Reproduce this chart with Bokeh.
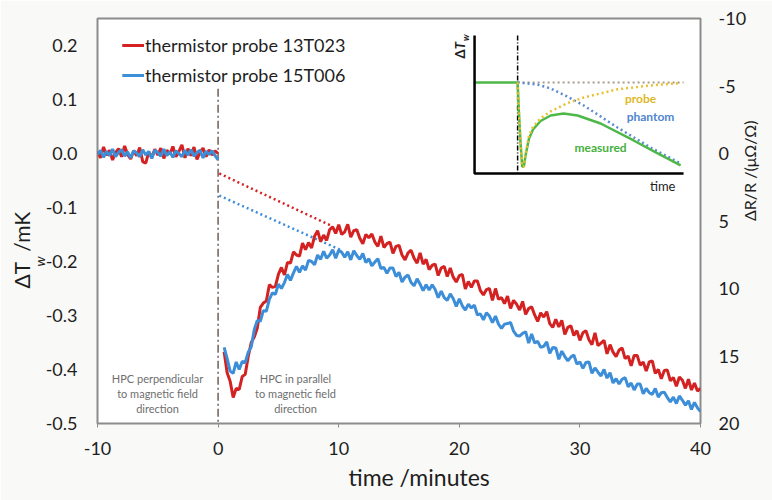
import numpy as np
from bokeh.plotting import figure
from bokeh.models import (Range1d, LinearAxis, FixedTicker, NumeralTickFormatter,
                          Label, Legend, LegendItem, Title)
from bokeh.embed import file_html
from bokeh.resources import INLINE

# ---------------- data ----------------
STEP = 0.25  # minutes between samples
T_PRE_START = -10.0
T_POST_START = 0.5

red_pre = [0.004, -0.008, 0.012, -0.003,
           0.006, -0.012, 0.002, 0.009,
           -0.006, 0.014, -0.002, -0.010,
           0.005, -0.004, 0.011, -0.015,
           -0.018, 0.003, -0.007, 0.008,
           -0.003, 0.010, -0.009, 0.006,
           -0.001, 0.013, -0.006, 0.004,
           0.016, -0.008, 0.009, -0.004,
           0.012, -0.011, 0.002, 0.010,
           -0.006, 0.007, -0.003, 0.005,
           0.0]
blue_pre = [-0.002, 0.006, -0.007, 0.004,
            -0.004, 0.008, -0.006, 0.002,
            0.007, -0.005, 0.003, -0.008,
            0.005, 0.001, -0.006, 0.007,
            -0.003, 0.004, -0.009, 0.006,
            0.002, -0.005, 0.008, -0.004,
            0.003, -0.007, 0.005, 0.000,
            -0.006, 0.006, -0.003, 0.007,
            -0.005, 0.002, 0.006, -0.008,
            0.004, -0.002, 0.005, -0.004,
            -0.012]
red_post = [-0.367, -0.406,
            -0.422, -0.452, -0.435, -0.437,
            -0.413, -0.409, -0.376, -0.350,
            -0.340, -0.323, -0.285, -0.277,
            -0.273, -0.243, -0.248, -0.246,
            -0.224, -0.211, -0.225, -0.202,
            -0.203, -0.182, -0.188, -0.190,
            -0.166, -0.178, -0.165, -0.175,
            -0.153, -0.143, -0.163, -0.151,
            -0.161, -0.141, -0.136, -0.148,
            -0.132, -0.150, -0.145, -0.131,
            -0.155, -0.143, -0.141, -0.157,
            -0.167, -0.150, -0.156, -0.149,
            -0.164, -0.172, -0.153, -0.174,
            -0.167, -0.164, -0.185, -0.172,
            -0.170, -0.188, -0.197, -0.184,
            -0.179, -0.194, -0.203, -0.184,
            -0.205, -0.196, -0.215, -0.207,
            -0.205, -0.226, -0.212, -0.209,
            -0.228, -0.212, -0.229, -0.238,
            -0.226, -0.224, -0.251, -0.237,
            -0.248, -0.236, -0.236, -0.254,
            -0.262, -0.252, -0.250, -0.272,
            -0.250, -0.270, -0.267, -0.278,
            -0.264, -0.287, -0.272, -0.279,
            -0.290, -0.274, -0.298, -0.287,
            -0.284, -0.299, -0.311, -0.295,
            -0.303, -0.293, -0.315, -0.322,
            -0.307, -0.321, -0.309, -0.335,
            -0.322, -0.319, -0.337, -0.328,
            -0.346, -0.332, -0.328, -0.345,
            -0.354, -0.332, -0.356, -0.351,
            -0.346, -0.371, -0.354, -0.368,
            -0.376, -0.364, -0.360, -0.380,
            -0.375, -0.393, -0.374, -0.374,
            -0.392, -0.386, -0.403, -0.386,
            -0.384, -0.407, -0.400, -0.417,
            -0.402, -0.401, -0.421, -0.415,
            -0.431, -0.414, -0.420, -0.435,
            -0.418, -0.438, -0.425, -0.440,
            -0.435]
blue_post = [-0.359, -0.380,
             -0.403, -0.407, -0.386, -0.400,
             -0.385, -0.387, -0.368, -0.358,
             -0.326, -0.309, -0.311, -0.291,
             -0.292, -0.270, -0.258, -0.261,
             -0.242, -0.250, -0.239, -0.224,
             -0.235, -0.221, -0.209, -0.220,
             -0.208, -0.216, -0.198, -0.200,
             -0.206, -0.188, -0.196, -0.181,
             -0.194, -0.188, -0.178, -0.194,
             -0.179, -0.183, -0.192, -0.182,
             -0.197, -0.180, -0.189, -0.196,
             -0.185, -0.202, -0.195, -0.208,
             -0.201, -0.195, -0.213, -0.211,
             -0.222, -0.212, -0.212, -0.228,
             -0.220, -0.238, -0.229, -0.225,
             -0.239, -0.245, -0.232, -0.242,
             -0.254, -0.243, -0.253, -0.243,
             -0.252, -0.267, -0.255, -0.267,
             -0.272, -0.260, -0.269, -0.283,
             -0.269, -0.282, -0.290, -0.279,
             -0.286, -0.281, -0.299, -0.297,
             -0.308, -0.295, -0.301, -0.313,
             -0.301, -0.316, -0.324, -0.316,
             -0.315, -0.313, -0.329, -0.337,
             -0.338, -0.333, -0.330, -0.351,
             -0.334, -0.351, -0.348, -0.359,
             -0.357, -0.349, -0.370, -0.359,
             -0.360, -0.381, -0.366, -0.376,
             -0.384, -0.377, -0.373, -0.390,
             -0.386, -0.398, -0.387, -0.386,
             -0.407, -0.397, -0.405, -0.412,
             -0.400, -0.416, -0.406, -0.425,
             -0.417, -0.427, -0.418, -0.415,
             -0.432, -0.425, -0.438, -0.427,
             -0.427, -0.445, -0.435, -0.443,
             -0.446, -0.435, -0.451, -0.443,
             -0.442, -0.452, -0.460, -0.451,
             -0.463, -0.449, -0.457, -0.466,
             -0.458, -0.474, -0.461, -0.471,
             -0.478]

# extrapolated (dotted) lines
red_extrap_t = [0.1, 9.5]
red_extrap_v = [-0.037, -0.135]
blue_extrap_t = [0.1, 10.3]
blue_extrap_v = [-0.078, -0.180]
# switching moment
switch_t = [0.0, 0.0]
switch_v = [0.12, -0.5]

x_ticks = [-10, 0, 10, 20, 30, 40]
y_ticks = [-0.5, -0.4, -0.3, -0.2, -0.1, 0.0, 0.1, 0.2]
r_ticks = [-10, -5, 0, 5, 10, 15, 20]

# inset schematic (arbitrary units)
inset_switch_u = 2.06
inset_base_w = 0.66
inset_axis_u = [0, 0, 10]
inset_axis_w = [1, 0, 0]
inset_switch_line_w = [1.0, 0.0]
inset_base_u = [2.06, 10.0]
measured_u = [0, 2.06, 2.12, 2.2, 2.28, 2.36, 2.45, 2.6, 2.8, 3.16, 3.64, 4.26, 4.93, 6.03, 7.61, 8.76, 9.86]
measured_w = [0.66, 0.66, 0.45, 0.22, 0.05, 0.05, 0.14, 0.25, 0.32, 0.38, 0.42, 0.435, 0.42, 0.362, 0.239, 0.145, 0.058]
probe_u = [2.06, 2.12, 2.2, 2.28, 2.36, 2.45, 2.6, 2.8, 3.16, 3.64, 4.45, 5.22, 6.84, 8.42, 9.86]
probe_w = [0.66, 0.45, 0.22, 0.05, 0.05, 0.15, 0.27, 0.34, 0.40, 0.45, 0.51, 0.55, 0.61, 0.638, 0.655]
phantom_u = [2.06, 3.0, 3.64, 4.4, 5.22, 6.84, 8.42, 9.86]
phantom_w = [0.66, 0.645, 0.616, 0.56, 0.493, 0.333, 0.188, 0.072]

t_pre = T_PRE_START + STEP * np.arange(len(red_pre))
t_post = T_POST_START + STEP * np.arange(len(red_post))
assert len(red_pre) == len(blue_pre) and len(red_post) == len(blue_post)

RED = "#d42222"
BLUE = "#3d8ed8"
FONT = "Lato"
TXT = "#1e1e1e"

p = figure(width=772, height=500, x_range=Range1d(-10, 40), y_range=Range1d(-0.5, 0.25),
           output_backend="svg", toolbar_location=None,
           min_border_left=97, min_border_right=72, min_border_top=18, min_border_bottom=77)
p.border_fill_color = "#f9f9f7"
p.background_fill_color = "white"
p.outline_line_color = "#8c8c8c"
p.outline_line_width = 2
p.xgrid.visible = False
p.ygrid.visible = False

p.extra_y_ranges = {"r": Range1d(20, -10), "iy": Range1d(-1.812, 1.123)}
p.extra_x_ranges = {"ix": Range1d(-18.04, 10.81)}

def style_axis(ax):
    ax.axis_line_color = None
    ax.major_tick_line_color = "#8c8c8c"
    ax.major_tick_out = 4
    ax.major_tick_in = 0
    ax.minor_tick_line_color = None
    ax.major_label_text_font = FONT
    ax.major_label_text_font_size = "18px"
    ax.major_label_text_color = TXT

p.xaxis.ticker = FixedTicker(ticks=x_ticks)
p.xaxis.formatter = NumeralTickFormatter(format="0")
p.xaxis.major_label_standoff = 14
style_axis(p.xaxis[0])
p.yaxis.ticker = FixedTicker(ticks=y_ticks)
p.yaxis.formatter = NumeralTickFormatter(format="0.0")
p.yaxis.major_label_standoff = 20
style_axis(p.yaxis[0])
p.yaxis.major_tick_out = 0
p.yaxis.major_tick_line_color = None

raxis = LinearAxis(y_range_name="r", ticker=FixedTicker(ticks=r_ticks),
                   formatter=NumeralTickFormatter(format="0"))
style_axis(raxis)
raxis.major_tick_out = 0
raxis.major_tick_line_color = None
raxis.major_label_standoff = 18
raxis.axis_label = "ΔR/R /(μΩ/Ω)"
raxis.axis_label_orientation = np.pi / 2
raxis.axis_label_standoff = 0
raxis.axis_label_text_font = FONT
raxis.axis_label_text_font_size = "16px"
raxis.axis_label_text_font_style = "normal"
raxis.axis_label_text_color = TXT
p.add_layout(raxis, "right")

# axis titles placed in the side panels
p.add_layout(Title(text="w", text_font=FONT, text_font_size="14px", text_font_style="italic",
                   text_color=TXT, align="left", offset=157, standoff=-10), "left")
p.add_layout(Title(text="ΔT\u00a0\u00a0/mK", text_font=FONT, text_font_size="21px",
                   text_font_style="normal", text_color=TXT, align="left", offset=135, standoff=0), "left")
p.add_layout(Title(text="time /minutes", text_font=FONT, text_font_size="23px",
                   text_font_style="normal", text_color=TXT, align="left", offset=251, standoff=6), "below")

# switching line and extrapolations
p.line(switch_t, switch_v, line_color="#6e6058", line_width=1.5, line_dash="8 3 2 3")
p.line(red_extrap_t, red_extrap_v, line_color=RED, line_width=2.5, line_dash="2 3")
p.line(blue_extrap_t, blue_extrap_v, line_color=BLUE, line_width=2.5, line_dash="2 3")

# measured data
r1 = p.line(t_pre, red_pre, line_color=RED, line_width=3)
r2 = p.line(t_post, red_post, line_color=RED, line_width=3)
b1 = p.line(t_pre, blue_pre, line_color=BLUE, line_width=3)
b2 = p.line(t_post, blue_post, line_color=BLUE, line_width=3)

legend = Legend(items=[LegendItem(label="thermistor probe 13T023", renderers=[r1, r2]),
                       LegendItem(label="thermistor probe 15T006", renderers=[b1, b2])],
                location=(25, 337), margin=0, padding=0, spacing=8,
                glyph_width=22, glyph_height=22, label_height=22, label_standoff=1,
                label_text_font=FONT, label_text_font_size="18px", label_text_color=TXT,
                background_fill_alpha=0, border_line_color=None)
p.add_layout(legend)

# inset
ix = dict(x_range_name="ix", y_range_name="iy")
p.line([inset_switch_u, inset_switch_u], inset_switch_line_w, line_color="black", line_width=1.5,
       line_dash="5 2 1 2", **ix)
p.line(inset_base_u, [inset_base_w, inset_base_w], line_color="#a89a8c", line_width=2, line_dash="2 3", **ix)
p.line(phantom_u, phantom_w, line_color="#5b8bd0", line_width=2.5, line_dash="2 3", **ix)
p.line(measured_u, measured_w, line_color="#4db848", line_width=2.5, **ix)
p.line(probe_u, probe_w, line_color="#e8c030", line_width=2.5, line_dash="2 3", **ix)
p.line(inset_axis_u, inset_axis_w, line_color="black", line_width=2.5, **ix)

def lab(x, y, text, size, color=TXT, style="normal", align="left", baseline="middle", angle=0, rng=None):
    kw = dict(x=x, y=y, text=text, text_font=FONT, text_font_size=size, text_color=color,
              text_font_style=style, text_align=align, text_baseline=baseline, angle=angle)
    if rng:
        kw.update(rng)
    p.add_layout(Label(**kw))

lab(7.94, 0.543, "probe", "12px", "#e0b828", "bold", "center", rng=ix)
lab(8.42, 0.413, "phantom", "12px", "#4f86d0", "bold", "center", rng=ix)
lab(6.03, 0.188, "measured", "12px", "#45b03c", "bold", "center", rng=ix)
lab(9.0, -0.09, "time", "13px", TXT, "normal", "center", rng=ix)
lab(-0.69, 0.833, "Δ", "13px", TXT, "bold", "left", angle=np.pi / 2, rng=ix)
lab(-0.69, 0.900, "T", "13px", TXT, "bold italic", "left", angle=np.pi / 2, rng=ix)
lab(-0.45, 0.960, "w", "9px", TXT, "bold italic", "left", angle=np.pi / 2, rng=ix)

# annotations inside plot
for txt, yv in zip(["HPC perpendicular", "to magnetic field", "direction"], [-0.4167, -0.4444, -0.4722]):
    lab(-5.02, yv, txt, "11px", "#6e6e6e", "normal", "center")
for txt, yv in zip(["HPC in parallel", "to magnetic field", "direction"], [-0.4167, -0.4444, -0.4722]):
    lab(6.42, yv, txt, "11px", "#6e6e6e", "normal", "center")

open("out.html", "w").write(file_html(p, INLINE))
